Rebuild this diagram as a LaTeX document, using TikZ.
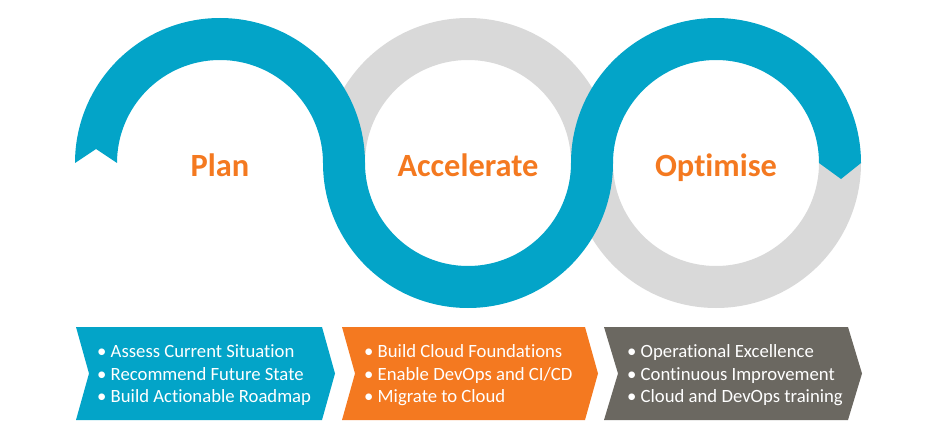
\documentclass[tikz,border=0pt]{standalone}
\usepackage{fontspec}
\setmainfont[Ligatures={NoCommon}]{Carlito}
\definecolor{ribbonblue}{HTML}{03A4C8}
\definecolor{accorange}{HTML}{F47920}
\definecolor{ringgray}{HTML}{D9D9D9}
\definecolor{optgray}{HTML}{6B6861}
\begin{document}
\begin{tikzpicture}[x=1pt,y=1pt,
  title/.style={text=accorange,font=\bfseries\fontsize{32.4}{36}\selectfont,anchor=base,inner sep=0pt},
  bullets/.style={text=white,font=\fontsize{18.7}{22.5}\selectfont,align=left,anchor=west,inner sep=0pt}]
\useasboundingbox (0,0) rectangle (940,440);
% gray rings
\fill[ringgray] (613,277) arc[start angle=0,end angle=180,radius=145] -- (365,277) arc[start angle=180,end angle=0,radius=103] -- cycle;
\fill[ringgray] (571,277) arc[start angle=180,end angle=360,radius=145] -- (819,277) arc[start angle=360,end angle=180,radius=103] -- cycle;
% blue ribbon
\fill[ribbonblue] (75,277) arc[start angle=180,end angle=0,radius=145]
  arc[start angle=180,end angle=360,radius=103]
  arc[start angle=180,end angle=0,radius=145]
  -- (841,261) -- (819,277)
  arc[start angle=0,end angle=180,radius=103]
  arc[start angle=0,end angle=-180,radius=145]
  arc[start angle=0,end angle=180,radius=103]
  -- (96,291) -- cycle;
% titles
\node[title] (plan) at (220,263) {Plan};
\node[title] (acc) at (468,263) {Accelerate};
\node[title] (opt) at (716,263) {Optimise};
% chevrons
\fill[ribbonblue] (76,113) -- (322,113) -- (335,66.5) -- (322,20) -- (76,20) -- (89,66.5) -- cycle;
\fill[accorange] (342,113) -- (585,113) -- (598,66.5) -- (585,20) -- (342,20) -- (355,66.5) -- cycle;
\fill[optgray] (604,113) -- (848,113) -- (862,66.5) -- (848,20) -- (604,20) -- (618,66.5) -- cycle;
% bullet texts
\node[bullets] (b1) at (97,64.5) {• Assess Current Situation\\• Recommend Future State\\• Build Actionable Roadmap};
\node[bullets] (b2) at (364,64.5) {• Build Cloud Foundations\\• Enable DevOps and CI/CD\\• Migrate to Cloud};
\node[bullets] (b3) at (627,64.5) {• Operational Excellence\\• Continuous Improvement\\• Cloud and DevOps training};
\end{tikzpicture}
\end{document}
